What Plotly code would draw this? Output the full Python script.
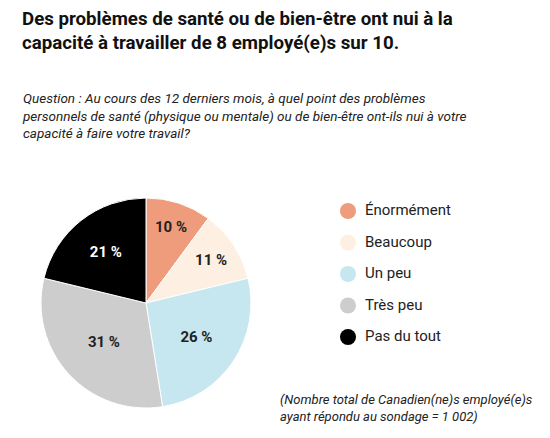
import plotly.graph_objects as go

labels = ["Énormément", "Beaucoup", "Un peu", "Très peu", "Pas du tout"]
values = [10, 11, 26, 31, 21]
colors = ["#EE9C7C", "#FDF0E2", "#C6E7EF", "#CDCDCD", "#000000"]
text_colors = ["#222222", "#222222", "#222222", "#222222", "#FFFFFF"]

W, H = 550, 438
fig = go.Figure()
fig.add_trace(go.Pie(
    labels=labels, values=values, sort=False, direction="clockwise", rotation=0,
    marker=dict(colors=colors, line=dict(color="white", width=1)),
    texttemplate="%{value} %", textposition="inside", insidetextorientation="horizontal",
    textfont=dict(family="Roboto", size=15, color=text_colors, weight="bold"),
    domain=dict(x=[27/W, 249/W], y=[1-400/H, 1-190/H]),
    showlegend=False, hoverinfo="label+value"))

shapes, anns = [], []
for i, (lab, c) in enumerate(zip(labels, colors)):
    yc = 1 - (210 + i*31.5)/H
    r = 8
    shapes.append(dict(type="circle", xref="paper", yref="paper",
                       x0=(340-r)/W, x1=(340+r)/W, y0=yc-r/H, y1=yc+r/H,
                       fillcolor=c, line=dict(width=0)))
    anns.append(dict(x=355/W, y=yc + 1/H, xref="paper", yref="paper", text=lab,
                     showarrow=False, xanchor="left", yanchor="middle",
                     font=dict(family="Roboto", size=15, color="#222")))
for s in shapes:
    s["y0"] += 7/H; s["y1"] += 7/H
for a in anns:
    a["y"] += 7/H

anns.append(dict(x=12/W, y=1+2/H, xref="paper", yref="paper", xanchor="left", yanchor="top",
                 align="left", showarrow=False,
                 text="<b>Des problèmes de santé ou de bien-être ont nui à la<br>capacité à travailler de 8 employé(e)s sur 10.</b>",
                 font=dict(family="Roboto", size=18.7, color="#111")))
anns.append(dict(x=12/W, y=1-80/H, xref="paper", yref="paper", xanchor="left", yanchor="top",
                 align="left", showarrow=False,
                 text="<i>Question : Au cours des 12 derniers mois, à quel point des problèmes<br>personnels de santé (physique ou mentale) ou de bien-être ont-ils nui à votre<br>capacité à faire votre travail?</i>",
                 font=dict(family="Roboto", size=13.5, color="#222")))
anns.append(dict(x=270/W, y=1-382/H, xref="paper", yref="paper", xanchor="left", yanchor="top",
                 align="left", showarrow=False,
                 text="<i>(Nombre total de Canadien(ne)s employé(e)s<br>ayant répondu au sondage = 1 002)</i>",
                 font=dict(family="Roboto", size=13, color="#222")))

fig.update_layout(width=W, height=H, margin=dict(l=0, r=0, t=0, b=0),
                  paper_bgcolor="white", shapes=shapes, annotations=anns)
fig.write_html("out.html")
